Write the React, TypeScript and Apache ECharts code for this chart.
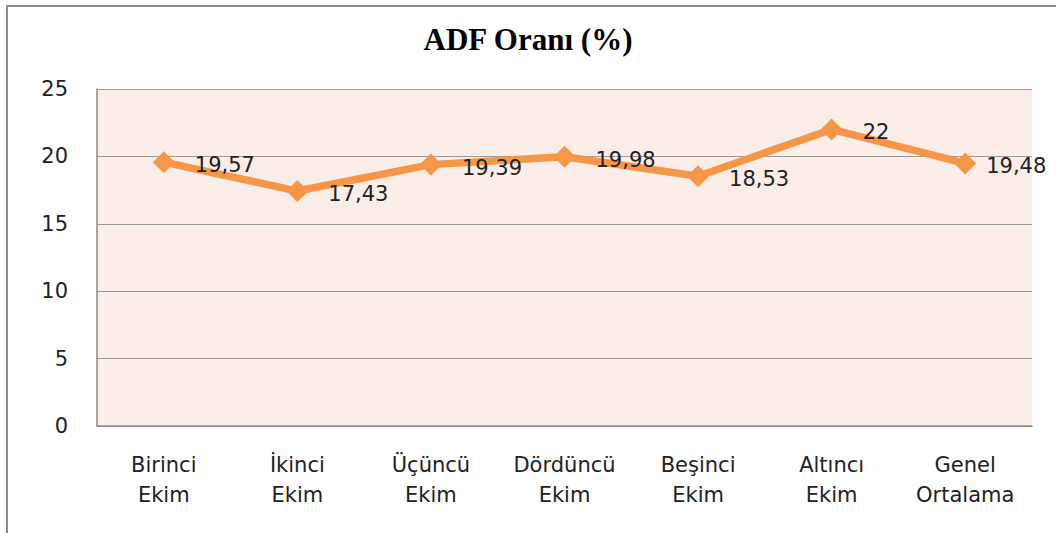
import React, { useEffect, useRef } from "react";
import * as echarts from "echarts";

const categories = ["Birinci\nEkim", "İkinci\nEkim", "Üçüncü\nEkim", "Dördüncü\nEkim", "Beşinci\nEkim", "Altıncı\nEkim", "Genel\nOrtalama"];
const values = [19.57, 17.43, 19.39, 19.98, 18.53, 22, 19.48];
const yTicks = { min: 0, max: 25, interval: 5 };
const title = "ADF Oranı (%)";

export default function App() {
  const ref = useRef<HTMLDivElement>(null);
  useEffect(() => {
    if (!ref.current) return;
    const chart = echarts.init(ref.current, undefined, { renderer: "svg" });
    const seriesData = values.map((v, i) =>
      i === values.length - 1 ? { value: v, label: { offset: [-10, 3] } } : v
    );
    chart.setOption({
      animation: false,
      backgroundColor: "#ffffff",
      title: {
        text: title,
        left: "center",
        top: 19,
        textStyle: { fontFamily: "Liberation Serif", fontWeight: "bold", fontSize: 31, color: "#000" },
      },
      graphic: [
        {
          type: "rect",
          shape: { x: 7, y: 6, width: 1100, height: 600 },
          style: { fill: "none", stroke: "#8c8c8c", lineWidth: 2 },
          silent: true,
        },
      ],
      grid: { left: 97, top: 89, right: 24, bottom: 107, show: true, backgroundColor: "#fbede8", borderWidth: 0 },
      xAxis: {
        type: "category",
        data: categories,
        boundaryGap: true,
        axisLine: { show: true, lineStyle: { color: "#8c8c8c", width: 1.5 } },
        axisTick: { show: false },
        axisLabel: { color: "#222", fontFamily: "DejaVu Sans", fontSize: 21, lineHeight: 30, margin: 24, interval: 0 },
      },
      yAxis: {
        type: "value",
        min: yTicks.min,
        max: yTicks.max,
        interval: yTicks.interval,
        axisLine: { show: true, lineStyle: { color: "#8c8c8c", width: 1.5 } },
        axisTick: { show: false },
        splitLine: { show: true, lineStyle: { color: "#9a9a9a", width: 1 } },
        axisLabel: { color: "#222", fontFamily: "DejaVu Sans", fontSize: 21, margin: 29 },
      },
      series: [
        {
          type: "line",
          data: seriesData,
          symbol: "diamond",
          symbolSize: 22,
          lineStyle: { color: "#f79646", width: 7.5 },
          itemStyle: { color: "#f79646" },
          label: {
            show: true,
            position: "right",
            distance: 20,
            offset: [0, 3],
            fontFamily: "DejaVu Sans",
            fontSize: 21,
            color: "#222",
            formatter: (p: any) => String(p.value).replace(".", ","),
          },
        },
      ],
    });
    return () => chart.dispose();
  }, []);
  return <div ref={ref} style={{ position: "absolute", left: 0, top: 0, width: 1056, height: 533 }} />;
}
